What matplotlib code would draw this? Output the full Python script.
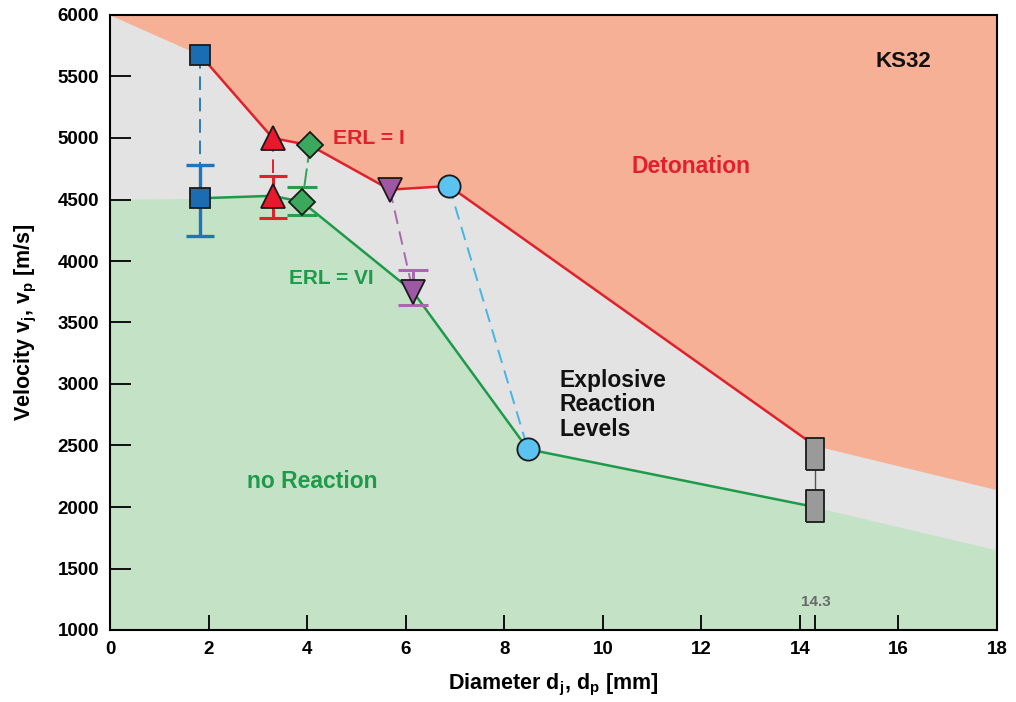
import matplotlib
matplotlib.use('Agg')
import matplotlib.pyplot as plt
import numpy as np

plt.rcParams['font.family'] = ['Liberation Sans', 'DejaVu Sans']
plt.rcParams['font.weight'] = 'bold'
plt.rcParams['mathtext.fontset'] = 'custom'
plt.rcParams['mathtext.rm'] = 'Liberation Sans:bold'
plt.rcParams['mathtext.it'] = 'Liberation Sans:bold'
plt.rcParams['mathtext.bf'] = 'Liberation Sans:bold'

# measured points (diameter mm, velocity m/s)
blue_x = [1.83, 1.83]
blue_y = [5675, 4510]
blue_err = [[310], [270]]          # lower, upper for the lower square
red_x = [3.3, 3.3]
red_y = [5000, 4530]
red_err = [[180], [160]]
green_x = [4.06, 3.9]
green_y = [4940, 4480]
green_err = [[105], [120]]
purple_x = [5.68, 6.15]
purple_y = [4580, 3750]
purple_err = [[105], [180]]
cyan_x = [6.88, 8.48]
cyan_y = [4610, 2470]
gray_x = [14.3, 14.3]
gray_y = [2430, 2010]

# ERL boundary lines
erl1_x = [1.83, 3.3, 4.06, 5.68, 6.88, 14.3]
erl1_y = [5675, 5000, 4940, 4580, 4610, 2500]
erl6_x = [1.83, 3.3, 3.9, 6.15, 8.48, 14.3]
erl6_y = [4510, 4530, 4480, 3750, 2470, 2000]

# region boundaries outside the measured range
deto_start = (0, 6000)
deto_end = (18, 2140)
noreac_start = (0, 4500)
noreac_end = (18, 1650)

c_orange = '#f6b095'
c_green_bg = '#c3e2c6'
c_gray_bg = '#e3e3e3'
c_red = '#e2202b'
c_green = '#1f9a4a'

fig = plt.figure(figsize=(10.16, 7.02), dpi=100)
ax = fig.add_axes([110/1016, 1-630/702, 887/1016, 615/702])
ax.set_facecolor(c_gray_bg)

# background regions
ox = [deto_start[0]] + erl1_x + [deto_end[0]]
oy = [deto_start[1]] + erl1_y + [deto_end[1]]
ax.fill_between(ox, oy, 6000, color=c_orange, lw=0, zorder=0)
gx = [noreac_start[0]] + erl6_x + [noreac_end[0]]
gy = [noreac_start[1]] + erl6_y + [noreac_end[1]]
ax.fill_between(gx, 1000, gy, color=c_green_bg, lw=0, zorder=0)

# ERL lines
ax.plot(erl1_x, erl1_y, color=c_red, lw=1.8, zorder=2)
ax.plot(erl6_x, erl6_y, color=c_green, lw=1.8, zorder=2)

# connectors between paired shots
dash = (0, (7, 4))
ax.plot(blue_x, blue_y, color='#2a7cc0', lw=1.4, ls=dash, zorder=1.5)
ax.plot(red_x, red_y, color=c_red, lw=1.4, ls=dash, zorder=1.5)
ax.plot(green_x, green_y, color='#2fa356', lw=1.4, ls=(0, (9, 3)), zorder=1.5)
ax.plot(purple_x, purple_y, color='#a868ae', lw=1.4, ls=dash, zorder=1.5)
ax.plot(cyan_x, cyan_y, color='#45b5e6', lw=1.4, ls=dash, zorder=1.5)
ax.plot(gray_x, gray_y, color='#555555', lw=1.0, zorder=1.5)

# error bars on lower points
ax.errorbar(blue_x[1], blue_y[1], yerr=blue_err, fmt='none', ecolor='#1f74bb',
            elinewidth=2.4, capsize=10, capthick=2.4, zorder=3)
ax.errorbar(red_x[1], red_y[1], yerr=red_err, fmt='none', ecolor=c_red,
            elinewidth=2.2, capsize=10, capthick=2.2, zorder=3)
ax.errorbar(green_x[1], green_y[1], yerr=green_err, fmt='none', ecolor='#2a9c50',
            elinewidth=2.2, capsize=11, capthick=2.2, zorder=3)
ax.errorbar(purple_x[1], purple_y[1], yerr=purple_err, fmt='none', ecolor='#a868ae',
            elinewidth=2.2, capsize=11, capthick=2.2, zorder=3)

# markers
mk = dict(ls='none', markeredgecolor='#1a1a1a', markeredgewidth=1.3, zorder=4)
ax.plot(blue_x, blue_y, marker='s', ms=14, markerfacecolor='#1a6db3', **mk)
ax.plot(red_x, red_y, marker='^', ms=17, markerfacecolor='#e8192c', **mk)
ax.plot(green_x, green_y, marker='D', ms=13, markerfacecolor='#3aa95e', **mk)
ax.plot(purple_x, purple_y, marker='v', ms=17, markerfacecolor='#9d58a4', **mk)
ax.plot(cyan_x, cyan_y, marker='o', ms=16, markerfacecolor='#5cc3f0', **mk)
rect = [(-0.56, -1), (0.56, -1), (0.56, 1), (-0.56, 1), (-0.56, -1)]
ax.plot(gray_x, gray_y, marker=rect, ms=23, markerfacecolor='#9a9a9a', **mk)

# annotations
ax.text(16.1, 5620, 'KS32', fontsize=16, fontweight='bold', ha='center', va='center', color='#111111')
ax.text(11.8, 4772, 'Detonation', fontsize=16.5, fontweight='bold', ha='center', va='center', color=c_red)
ax.text(5.26, 4995, 'ERL = I', fontsize=15.3, fontweight='bold', ha='center', va='center', color=c_red)
ax.text(4.5, 3855, 'ERL = VI', fontsize=15, fontweight='bold', ha='center', va='center', color=c_green)
ax.text(9.13, 2830, 'Explosive\nReaction\nLevels', fontsize=16.5, fontweight='bold', ha='left', va='center',
        color='#111111', linespacing=1.1)
ax.text(4.1, 2210, 'no Reaction', fontsize=16.5, fontweight='bold', ha='center', va='center', color=c_green)
ax.text(14.33, 1228, '14.3', fontsize=11, fontweight='bold', ha='center', va='center', color='#6a6a6a')

ax.set_xlim(0, 18)
ax.set_ylim(1000, 6000)
ax.set_xticks(np.arange(0, 19, 2))
ax.set_xticks([14.3], minor=True)
ax.set_yticks(np.arange(1000, 6001, 500))
ax.tick_params(axis='y', direction='in', length=15, width=1.3, labelsize=13.5, pad=8)
ax.tick_params(axis='x', which='both', direction='in', length=11, width=1.3, labelsize=13.5, pad=8)
for lab in ax.get_xticklabels() + ax.get_yticklabels():
    lab.set_fontweight('bold')
for s in ax.spines.values():
    s.set_linewidth(1.5)
    s.set_zorder(5)

ax.set_xlabel(r'Diameter d$_{j}$, d$_{p}$ [mm]', fontsize=15.5, fontweight='bold', labelpad=10)
ax.set_ylabel(r'Velocity v$_{j}$, v$_{p}$ [m/s]', fontsize=15.5, fontweight='bold', labelpad=13)

fig.savefig('out.png', dpi=100)
